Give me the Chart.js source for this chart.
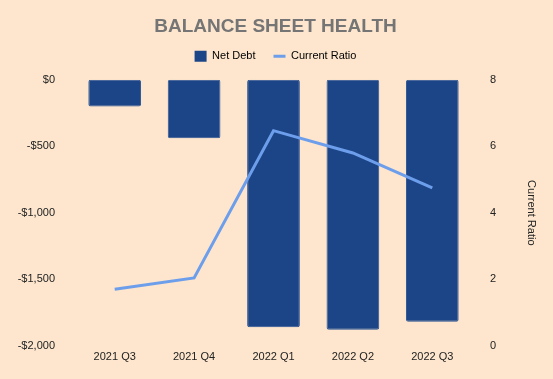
<!DOCTYPE html>
<html>
<head>
<meta charset="utf-8">
<script src="https://cdn.jsdelivr.net/npm/chart.js@4"></script>
<style>
  html, body { margin: 0; padding: 0; background: #fde6cd; }
  #wrap { width: 553px; height: 379px; }
</style>
</head>
<body>
<div id="wrap"><canvas id="chart"></canvas></div>
<script>
// ── data ──
const quarters     = ['2021 Q3', '2021 Q4', '2022 Q1', '2022 Q2', '2022 Q3'];
const netDebt      = [-200, -440, -1860, -1880, -1820];
const currentRatio = [1.70, 2.04, 6.47, 5.80, 4.75];

const font = "'Liberation Sans', Arial, sans-serif";
const tickColor = '#222';
const barColor  = '#1c4587';
const lineColor = '#6d9eeb';
const noGrid = { display: false, drawTicks: false };

// extra room below the legend, so the plot starts lower
const legendGap = {
  id: 'legendGap',
  beforeInit(chart) {
    const fit = chart.legend.fit;
    chart.legend.fit = function () {
      fit.call(this);
      this.height += 8;
    };
  },
};

new Chart(document.getElementById('chart'), {
  plugins: [legendGap],
  data: {
    labels: quarters,
    datasets: [
      {
        type: 'line',
        label: 'Current Ratio',
        data: currentRatio,
        yAxisID: 'y1',
        borderColor: lineColor,
        backgroundColor: lineColor,
        borderWidth: 3,
        pointRadius: 0,
        tension: 0,
        order: 0,
      },
      {
        type: 'bar',
        label: 'Net Debt',
        data: netDebt,
        yAxisID: 'y',
        backgroundColor: barColor,
        borderColor: '#2a5296',
        borderWidth: 1,
        borderRadius: 2,
        borderSkipped: false,
        barPercentage: 0.8,
        categoryPercentage: 0.83,
        order: 1,
      },
    ],
  },
  options: {
    responsive: true,
    maintainAspectRatio: false,
    animation: false,
    layout: { padding: { left: 10, right: 12, top: 7, bottom: 10 } },
    plugins: {
      title: {
        display: true,
        text: 'BALANCE SHEET HEALTH',
        color: '#757575',
        font: { family: font, size: 19, weight: 'bold' },
        padding: { top: 8, bottom: -5 },
      },
      legend: {
        labels: {
          color: '#222',
          font: { family: font, size: 11 },
          usePointStyle: true,
          pointStyleWidth: 12,
          padding: 18,
          generateLabels: () => [
            { text: 'Net Debt', fillStyle: barColor, strokeStyle: barColor, lineWidth: 0, pointStyle: 'rect', datasetIndex: 1 },
            { text: 'Current Ratio', fillStyle: lineColor, strokeStyle: lineColor, lineWidth: 3, pointStyle: 'line', datasetIndex: 0 },
          ],
        },
      },
      tooltip: { enabled: false },
    },
    scales: {
      x: {
        grid: noGrid,
        border: { display: false },
        ticks: { color: tickColor, font: { family: font, size: 11 }, padding: 5 },
      },
      y: {
        position: 'left',
        min: -2000,
        max: 0,
        grid: noGrid,
        border: { display: false },
        afterFit: s => { s.width = 65; },
        ticks: {
          stepSize: 500,
          color: tickColor,
          font: { family: font, size: 11 },
          padding: 20,
          callback: v => (v < 0 ? '-$' : '$') + Math.abs(v).toLocaleString('en-US'),
        },
      },
      y1: {
        position: 'right',
        min: 0,
        max: 8,
        grid: noGrid,
        border: { display: false },
        afterFit: s => { s.width = 69; },
        ticks: { stepSize: 2, color: tickColor, font: { family: font, size: 11 }, padding: 18 },
        title: { display: true, text: 'Current Ratio', color: tickColor, font: { family: font, size: 11 }, padding: { top: 3, bottom: 0 } },
      },
    },
  },
});
</script>
</body>
</html>
